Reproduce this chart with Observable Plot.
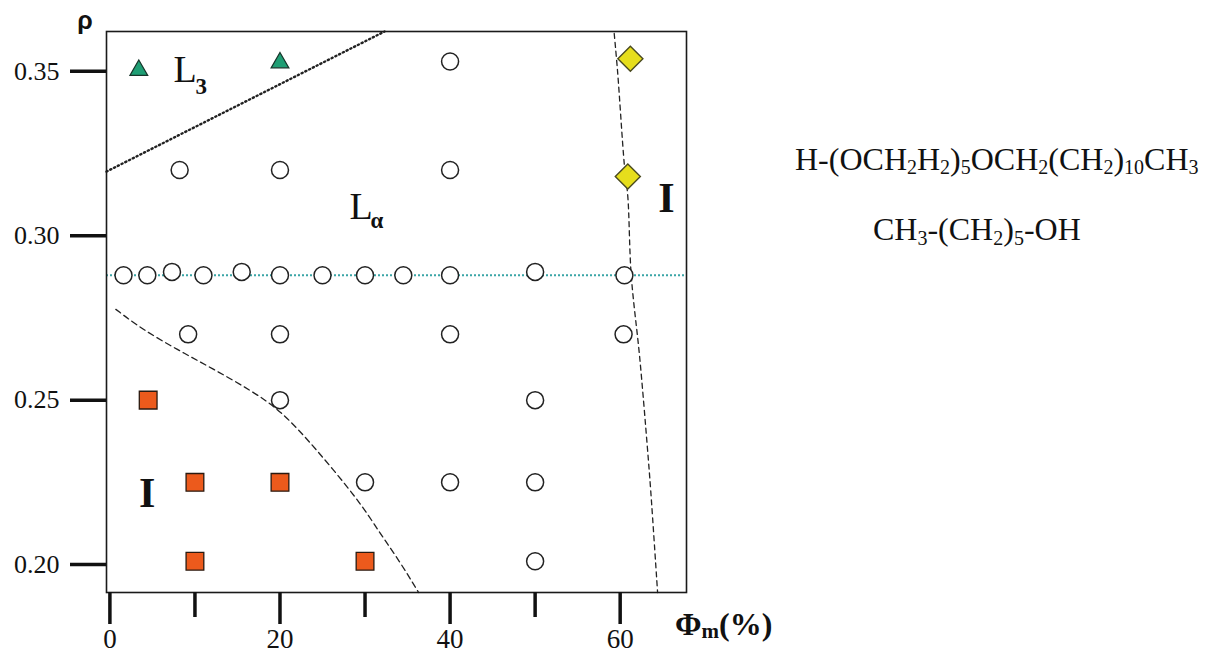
<!DOCTYPE html>
<html>
<head>
<meta charset="utf-8">
<script src="https://cdn.jsdelivr.net/npm/d3@7"></script>
<script src="https://cdn.jsdelivr.net/npm/@observablehq/plot@0.6"></script>
<style>
  body { margin: 0; background: #fff; }
  #chart svg { display: block; }
</style>
</head>
<body>
<div id="chart"></div>
<script>
// ---------- data ----------
// open circles: Lα phase samples
const openX = [1.6, 4.4, 7.3, 11, 15.5, 20, 25, 30, 34.5, 40, 50, 60.5,
               40,
               8.2, 20, 40,
               9.2, 20, 40, 60.4,
               20, 50,
               30, 40, 50,
               50];
const openY = [0.288, 0.288, 0.289, 0.288, 0.289, 0.288, 0.288, 0.288, 0.288, 0.288, 0.289, 0.288,
               0.353,
               0.32, 0.32, 0.32,
               0.27, 0.27, 0.27, 0.27,
               0.25, 0.25,
               0.225, 0.225, 0.225,
               0.201];
// orange squares: isotropic (I) phase
const squareX = [4.5, 10, 20, 10, 30];
const squareY = [0.25, 0.225, 0.225, 0.201, 0.201];
// green triangles: L3 phase
const triX = [3.4, 20];
const triY = [0.3503, 0.3526];
// yellow diamonds: points on the right boundary
const diaX = [61.2, 60.9];
const diaY = [0.3538, 0.318];

// horizontal cut (teal dotted line)
const cutY = 0.288;

// L3 / Lα boundary (dotted)
const l3X = [-0.4, 32.3];
const l3Y = [0.3195, 0.3621];
// lower-left I / Lα boundary (dashed)
const lowX = [0.7, 3.7, 7.9, 12.0, 16.7, 20.2, 24.1, 29.4, 31.7, 34.0, 36.3];
const lowY = [0.2776, 0.2717, 0.2654, 0.2597, 0.2528, 0.2466, 0.2356, 0.2191, 0.2097, 0.2013, 0.1915];
// right Lα / I boundary (dashed)
const rightX = [59.3, 59.7, 60.5, 60.9, 61.3, 62.3, 63.2, 63.6, 64.4];
const rightY = [0.3615, 0.3498, 0.3213, 0.3119, 0.288, 0.2629, 0.2356, 0.2222, 0.1915];

// axis ticks
const yTicks = [0.20, 0.25, 0.30, 0.35];
const yTickLabels = ["0.20", "0.25", "0.30", "0.35"];
const xMajorTicks = [0, 20, 40, 60];
const xTickLabels = ["0", "20", "40", "60"];
const xMinorTicks = [10, 30, 50];

// phase region labels
const phaseL = ["L", "L"];
const phaseLX = [7.48, 28.17];
const phaseLY = [0.3466, 0.3052];
const phaseSub = ["3", "α"];
const phaseSubX = [10.07, 30.64];
const phaseSubY = [0.3431, 0.3022];
const phaseI = ["I", "I"];
const phaseIX = [65.45, 4.39];
const phaseIY = [0.3072, 0.2174];

// ---------- tables ----------
const zip = (xs, ys, extra = {}) => xs.map((x, i) => ({x, y: ys[i], ...Object.fromEntries(Object.entries(extra).map(([k, v]) => [k, v[i]]))}));
const openPts = zip(openX, openY);
const squarePts = zip(squareX, squareY);
const triPts = zip(triX, triY);
const diaPts = zip(diaX, diaY);
const l3Line = zip(l3X, l3Y);
const lowLine = zip(lowX, lowY);
const rightLine = zip(rightX, rightY);
const lLabels = zip(phaseLX, phaseLY, {t: phaseL});
const subLabels = zip(phaseSubX, phaseSubY, {t: phaseSub});
const iLabels = zip(phaseIX, phaseIY, {t: phaseI});
const yLab = yTicks.map((v, i) => ({v, t: yTickLabels[i]}));
const xLab = xMajorTicks.map((v, i) => ({v, t: xTickLabels[i]}));

const serif = "'Liberation Serif', 'Times New Roman', serif";

const chart = Plot.plot({
  width: 1207,
  height: 653,
  marginLeft: 106,
  marginRight: 521,
  marginTop: 31,
  marginBottom: 61,
  x: {domain: [-0.4, 67.8], label: null},
  y: {domain: [0.1915, 0.3621], label: null},
  style: {fontFamily: serif, background: "#fff", color: "#111", overflow: "visible"},
  marks: [
    Plot.ruleY([cutY], {stroke: "#3aa5a6", strokeWidth: 2, strokeDasharray: "2,2"}),
    Plot.line(l3Line, {x: "x", y: "y", stroke: "#222", strokeWidth: 2.4, strokeDasharray: "1.2,3", strokeLinecap: "round"}),
    Plot.line(lowLine, {x: "x", y: "y", stroke: "#222", strokeWidth: 1.3, strokeDasharray: "6,4", curve: "basis"}),
    Plot.line(rightLine, {x: "x", y: "y", stroke: "#222", strokeWidth: 1.3, strokeDasharray: "5,4", curve: "catmull-rom"}),
    Plot.frame({stroke: "#1a1a1a", strokeWidth: 1.6}),
    Plot.axisY({ticks: yTicks, tickSize: 36, strokeWidth: 3.5, tickFormat: () => "", label: null}),
    Plot.axisX({ticks: xMajorTicks, tickSize: 32, strokeWidth: 3.5, tickFormat: () => "", label: null}),
    Plot.axisX({ticks: xMinorTicks, tickSize: 25, strokeWidth: 3.5, tickFormat: () => "", label: null}),
    Plot.text(yLab, {y: "v", text: "t", frameAnchor: "left", dx: -47, textAnchor: "end", lineAnchor: "middle",
                     fontSize: 26, fontFamily: serif, fill: "#111"}),
    Plot.text(xLab, {x: "v", text: "t", frameAnchor: "bottom", dy: 47, textAnchor: "middle", lineAnchor: "middle",
                     fontSize: 27, fontFamily: serif, fill: "#111"}),
    Plot.dot(openPts, {x: "x", y: "y", r: 8.5, stroke: "#222", strokeWidth: 1.5, fill: "#fff"}),
    Plot.dot(squarePts, {x: "x", y: "y", symbol: "square", r: 10, fill: "#ec5a1c", stroke: "#2a1a10", strokeWidth: 1.3}),
    Plot.dot(triPts, {x: "x", y: "y", symbol: "triangle", r: 6.6, fill: "#1f9e74", stroke: "#17352a", strokeWidth: 1.2}),
    Plot.dot(diaPts, {x: "x", y: "y", symbol: "diamond2", r: 11.3, fill: "#e6de1c", stroke: "#4a4a20", strokeWidth: 1.4}),
    Plot.text(lLabels, {x: "x", y: "y", text: "t", textAnchor: "start", lineAnchor: "bottom", fontSize: 38, fontFamily: serif, fill: "#111"}),
    Plot.text(subLabels, {x: "x", y: "y", text: "t", textAnchor: "start", lineAnchor: "bottom", fontSize: 23, fontFamily: serif, fontWeight: "bold", fill: "#111"}),
    Plot.text(iLabels, {x: "x", y: "y", text: "t", textAnchor: "middle", lineAnchor: "bottom", fontSize: 42, fontFamily: serif, fontWeight: "bold", fill: "#111"})
  ]
});

document.getElementById("chart").appendChild(chart);

// ---------- axis titles and chemical formulas (real text with subscripts) ----------
const svg = d3.select(chart);

svg.append("text")
  .attr("x", 85).attr("y", 29)
  .attr("text-anchor", "middle")
  .style("font-family", "'Liberation Sans', Arial, sans-serif")
  .attr("font-weight", "bold")
  .attr("font-size", 25)
  .attr("fill", "#111")
  .text("ρ");

function richText(x, y, parts, size, subSize, subShift, weight) {
  const t = svg.append("text")
    .attr("x", x).attr("y", y)
    .attr("text-anchor", "start")
    .style("font-family", serif)
    .attr("font-weight", weight)
    .attr("font-size", size)
    .attr("fill", "#111");
  let shifted = false;
  for (const [s, isSub] of parts) {
    const ts = t.append("tspan").text(s);
    if (isSub && !shifted) { ts.attr("dy", subShift).attr("font-size", subSize); shifted = true; }
    else if (isSub) { ts.attr("font-size", subSize); }
    else if (shifted) { ts.attr("dy", -subShift); shifted = false; }
  }
  return t;
}

richText(675, 635, [["Φ", false], ["m", true], ["(%)", false]], 32, 21, 3, "bold");

richText(795, 170, [
  ["H-(OCH", false], ["2", true], ["H", false], ["2", true], [")", false], ["5", true],
  ["OCH", false], ["2", true], ["(CH", false], ["2", true], [")", false], ["10", true],
  ["CH", false], ["3", true]
], 32, 20, 4, "normal");

richText(873, 240, [
  ["CH", false], ["3", true], ["-(CH", false], ["2", true], [")", false], ["5", true], ["-OH", false]
], 32, 20, 5, "normal");
</script>
</body>
</html>
